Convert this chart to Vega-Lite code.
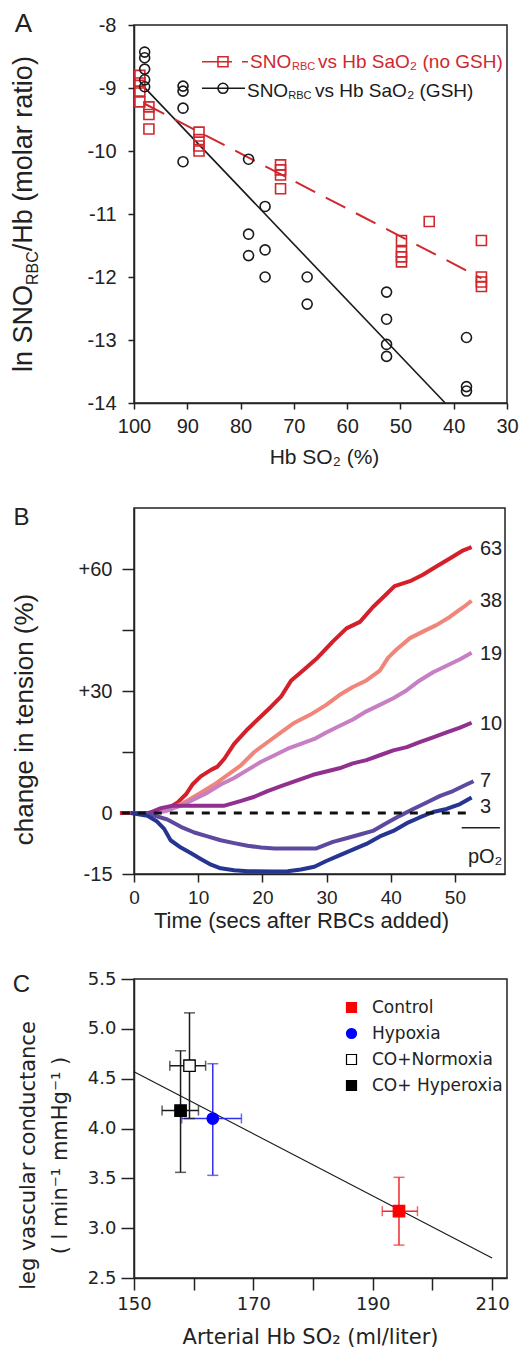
{
"$schema": "https://vega.github.io/schema/vega-lite/v6.json",
"autosize": {"type": "none"},
"padding": {"left": 134, "top": 25, "right": 396, "bottom": 1326},
"background": "white",
"spacing": 105,
"bounds": "flush",
"resolve": {"scale": {"color": "independent"}},
"config": {
  "view": {"stroke": "#222", "strokeWidth": 1.5},
  "axis": {"grid": false, "domainColor": "#222", "domainWidth": 1.5, "tickColor": "#222", "tickWidth": 1.5, "labelColor": "#222", "titleColor": "#222", "labelFont": "Liberation Sans", "titleFont": "Liberation Sans", "titleFontWeight": "normal", "labelOverlap": false, "labelFlush": false},
  "text": {"font": "Liberation Sans", "color": "#222"}
},
"datasets": {
  "ptsA": [
    {"series":"noGSH","x":98.9,"y":-8.8},{"series":"noGSH","x":98.9,"y":-8.92},{"series":"noGSH","x":98.9,"y":-9.05},{"series":"noGSH","x":98.9,"y":-9.22},
    {"series":"noGSH","x":97.2,"y":-9.3},{"series":"noGSH","x":97.2,"y":-9.42},{"series":"noGSH","x":97.2,"y":-9.65},
    {"series":"noGSH","x":87.8,"y":-9.7},{"series":"noGSH","x":87.8,"y":-9.82},{"series":"noGSH","x":87.8,"y":-9.92},{"series":"noGSH","x":87.8,"y":-10.0},
    {"series":"noGSH","x":72.5,"y":-10.22},{"series":"noGSH","x":72.5,"y":-10.3},{"series":"noGSH","x":72.5,"y":-10.38},{"series":"noGSH","x":72.5,"y":-10.6},
    {"series":"noGSH","x":44.6,"y":-11.12},
    {"series":"noGSH","x":49.8,"y":-11.42},{"series":"noGSH","x":49.8,"y":-11.6},{"series":"noGSH","x":49.8,"y":-11.68},{"series":"noGSH","x":49.8,"y":-11.76},
    {"series":"noGSH","x":34.8,"y":-11.42},{"series":"noGSH","x":34.8,"y":-12.0},{"series":"noGSH","x":34.8,"y":-12.08},{"series":"noGSH","x":34.8,"y":-12.15},
    {"series":"GSH","x":98.0,"y":-8.43},{"series":"GSH","x":98.0,"y":-8.52},{"series":"GSH","x":98.0,"y":-8.7},{"series":"GSH","x":98.0,"y":-8.87},{"series":"GSH","x":98.0,"y":-8.98},
    {"series":"GSH","x":90.8,"y":-8.97},{"series":"GSH","x":90.8,"y":-9.05},{"series":"GSH","x":90.8,"y":-9.32},{"series":"GSH","x":90.8,"y":-10.17},
    {"series":"GSH","x":78.5,"y":-10.13},{"series":"GSH","x":78.5,"y":-11.32},{"series":"GSH","x":78.5,"y":-11.66},
    {"series":"GSH","x":75.4,"y":-10.88},{"series":"GSH","x":75.4,"y":-11.57},{"series":"GSH","x":75.4,"y":-12.0},
    {"series":"GSH","x":67.5,"y":-12.0},{"series":"GSH","x":67.5,"y":-12.43},
    {"series":"GSH","x":52.6,"y":-12.24},{"series":"GSH","x":52.6,"y":-12.67},{"series":"GSH","x":52.6,"y":-13.07},{"series":"GSH","x":52.6,"y":-13.26},
    {"series":"GSH","x":37.6,"y":-12.96},{"series":"GSH","x":37.6,"y":-13.74},{"series":"GSH","x":37.6,"y":-13.81}
  ],
  "fitA": [
    {"series":"GSH","x":98.5,"y":-8.95},{"series":"GSH","x":41.6,"y":-14},
    {"series":"noGSH","x":98,"y":-9.25},{"series":"noGSH","x":34.8,"y":-12.02}
  ],
  "curves": [
    {"p":"63","t":-2.2,"v":0},{"p":"63","t":2.1,"v":0},{"p":"63","t":3.6,"v":0.24},{"p":"63","t":5.2,"v":1.0},{"p":"63","t":6.8,"v":2.6},{"p":"63","t":8.1,"v":4.6},{"p":"63","t":9.1,"v":7.0},{"p":"63","t":10.4,"v":9.0},{"p":"63","t":12.0,"v":10.6},{"p":"63","t":13.0,"v":11.4},{"p":"63","t":14.1,"v":13.4},{"p":"63","t":15.6,"v":17.0},{"p":"63","t":17.7,"v":20.6},{"p":"63","t":19.8,"v":23.8},{"p":"63","t":21.4,"v":26.2},{"p":"63","t":22.9,"v":28.6},{"p":"63","t":24.5,"v":32.6},{"p":"63","t":26.6,"v":35.4},{"p":"63","t":28.6,"v":38.2},{"p":"63","t":31.0,"v":42.2},{"p":"63","t":33.1,"v":45.4},{"p":"63","t":35.2,"v":47.0},{"p":"63","t":37.2,"v":50.6},{"p":"63","t":39.3,"v":53.8},{"p":"63","t":40.6,"v":55.8},{"p":"63","t":43.0,"v":57.0},{"p":"63","t":45.0,"v":58.6},{"p":"63","t":47.1,"v":60.6},{"p":"63","t":49.2,"v":62.6},{"p":"63","t":51.3,"v":64.6},{"p":"63","t":52.6,"v":65.4},
    {"p":"38","t":-0.5,"v":0},{"p":"38","t":3.0,"v":0},{"p":"38","t":5.0,"v":0.6},{"p":"38","t":6.25,"v":1.4},{"p":"38","t":8.3,"v":3.0},{"p":"38","t":10.4,"v":5.0},{"p":"38","t":12.5,"v":7.0},{"p":"38","t":14.6,"v":9.4},{"p":"38","t":16.7,"v":11.8},{"p":"38","t":18.75,"v":15.0},{"p":"38","t":20.8,"v":17.4},{"p":"38","t":22.9,"v":19.8},{"p":"38","t":25.0,"v":22.2},{"p":"38","t":27.5,"v":24.2},{"p":"38","t":29.95,"v":26.6},{"p":"38","t":32.0,"v":29.0},{"p":"38","t":34.1,"v":31.0},{"p":"38","t":36.2,"v":32.6},{"p":"38","t":38.3,"v":35.0},{"p":"38","t":39.6,"v":38.2},{"p":"38","t":40.9,"v":40.2},{"p":"38","t":43.0,"v":43.0},{"p":"38","t":45.0,"v":44.6},{"p":"38","t":47.1,"v":46.2},{"p":"38","t":49.2,"v":48.2},{"p":"38","t":51.3,"v":50.6},{"p":"38","t":52.6,"v":52.2},
    {"p":"19","t":-0.5,"v":0},{"p":"19","t":3.0,"v":0},{"p":"19","t":5.0,"v":0.5},{"p":"19","t":7.3,"v":1.8},{"p":"19","t":9.4,"v":3.4},{"p":"19","t":11.45,"v":5.0},{"p":"19","t":13.5,"v":7.0},{"p":"19","t":15.6,"v":8.6},{"p":"19","t":17.7,"v":10.6},{"p":"19","t":19.8,"v":12.6},{"p":"19","t":21.9,"v":14.2},{"p":"19","t":23.95,"v":15.8},{"p":"19","t":26.0,"v":17.0},{"p":"19","t":28.1,"v":18.2},{"p":"19","t":29.95,"v":19.8},{"p":"19","t":32.0,"v":21.4},{"p":"19","t":34.1,"v":23.0},{"p":"19","t":36.2,"v":25.0},{"p":"19","t":38.3,"v":26.6},{"p":"19","t":40.4,"v":28.2},{"p":"19","t":42.5,"v":30.2},{"p":"19","t":44.5,"v":32.6},{"p":"19","t":46.6,"v":34.6},{"p":"19","t":48.7,"v":36.2},{"p":"19","t":50.8,"v":37.8},{"p":"19","t":52.6,"v":39.4},
    {"p":"10","t":-0.5,"v":0},{"p":"10","t":2.3,"v":0},{"p":"10","t":4.2,"v":1.2},{"p":"10","t":6.0,"v":1.8},{"p":"10","t":14.1,"v":1.8},{"p":"10","t":16.7,"v":3.0},{"p":"10","t":18.75,"v":4.0},{"p":"10","t":20.8,"v":5.4},{"p":"10","t":22.9,"v":6.6},{"p":"10","t":25.0,"v":7.8},{"p":"10","t":27.9,"v":9.4},{"p":"10","t":29.95,"v":10.2},{"p":"10","t":32.0,"v":11.0},{"p":"10","t":34.1,"v":12.2},{"p":"10","t":36.2,"v":13.0},{"p":"10","t":38.3,"v":14.2},{"p":"10","t":40.4,"v":15.4},{"p":"10","t":42.5,"v":16.2},{"p":"10","t":44.5,"v":17.4},{"p":"10","t":46.6,"v":18.6},{"p":"10","t":48.7,"v":19.8},{"p":"10","t":50.8,"v":21.0},{"p":"10","t":52.6,"v":22.2},
    {"p":"7","t":-0.5,"v":0},{"p":"7","t":2.3,"v":-0.2},{"p":"7","t":5.2,"v":-1.6},{"p":"7","t":7.3,"v":-3.4},{"p":"7","t":9.4,"v":-4.8},{"p":"7","t":11.45,"v":-5.75},{"p":"7","t":13.5,"v":-6.7},{"p":"7","t":15.6,"v":-7.4},{"p":"7","t":17.7,"v":-8.05},{"p":"7","t":19.8,"v":-8.5},{"p":"7","t":21.9,"v":-8.7},{"p":"7","t":28.4,"v":-8.7},{"p":"7","t":31.0,"v":-7.1},{"p":"7","t":33.1,"v":-6.2},{"p":"7","t":35.2,"v":-5.3},{"p":"7","t":37.2,"v":-4.4},{"p":"7","t":39.3,"v":-2.5},{"p":"7","t":41.4,"v":-0.7},{"p":"7","t":43.5,"v":1.0},{"p":"7","t":45.6,"v":2.6},{"p":"7","t":47.7,"v":4.2},{"p":"7","t":49.7,"v":5.4},{"p":"7","t":51.8,"v":7.0},{"p":"7","t":52.9,"v":7.8},
    {"p":"3","t":-0.5,"v":0},{"p":"3","t":2.1,"v":-0.7},{"p":"3","t":3.6,"v":-2.1},{"p":"3","t":4.7,"v":-3.9},{"p":"3","t":5.7,"v":-6.7},{"p":"3","t":7.3,"v":-8.5},{"p":"3","t":8.9,"v":-9.9},{"p":"3","t":10.4,"v":-11.3},{"p":"3","t":12.0,"v":-12.7},{"p":"3","t":13.5,"v":-13.6},{"p":"3","t":15.6,"v":-14.1},{"p":"3","t":17.7,"v":-14.3},{"p":"3","t":21.9,"v":-14.4},{"p":"3","t":23.95,"v":-14.3},{"p":"3","t":26.0,"v":-13.9},{"p":"3","t":28.1,"v":-13.2},{"p":"3","t":29.95,"v":-11.8},{"p":"3","t":32.0,"v":-10.4},{"p":"3","t":34.1,"v":-9.0},{"p":"3","t":36.2,"v":-7.6},{"p":"3","t":38.3,"v":-5.75},{"p":"3","t":40.4,"v":-4.4},{"p":"3","t":42.5,"v":-2.5},{"p":"3","t":44.5,"v":-1.1},{"p":"3","t":46.6,"v":0.25},{"p":"3","t":48.7,"v":1.0},{"p":"3","t":50.8,"v":2.2},{"p":"3","t":52.6,"v":3.8}
  ],
  "curveLabels": [
    {"p":"63","v":65.0},{"p":"38","v":52.2},{"p":"19","v":39.0},{"p":"10","v":21.8},{"p":"7","v":7.8},{"p":"3","v":1.44}
  ],
  "ptsC": [
    {"group":"Control","x":194.4,"y":3.17,"xlo":191.6,"xhi":197.5,"ylo":2.83,"yhi":3.51},
    {"group":"Hypoxia","x":163.2,"y":4.10,"xlo":158.0,"xhi":168.0,"ylo":3.53,"yhi":4.65},
    {"group":"CO+Normoxia","x":159.3,"y":4.63,"xlo":156.0,"xhi":162.0,"ylo":4.10,"yhi":5.16},
    {"group":"CO+ Hyperoxia","x":157.8,"y":4.18,"xlo":154.7,"xhi":160.8,"ylo":3.56,"yhi":4.78}
  ],
  "fitC": [{"x":150,"y":4.57},{"x":210,"y":2.70}]
},
"vconcat": [
  {
    "width": 373, "height": 378,
    "layer": [
      {"data": {"name": "fitA"}, "transform": [{"filter": "datum.series == 'GSH'"}],
       "mark": {"type": "line", "color": "#1a1a1a", "strokeWidth": 1.6},
       "encoding": {
         "x": {"field": "x", "type": "quantitative", "scale": {"domain": [100, 30], "nice": false, "zero": false},
               "axis": {"values": [100,90,80,70,60,50,40,30], "labelFontSize": 20, "tickSize": 6, "labelPadding": 7, "title": "Hb SO₂ (%)", "titleFontSize": 21, "titleX": 190, "titleY": 60, "titleBaseline": "alphabetic", "titleAlign": "center"}},
         "y": {"field": "y", "type": "quantitative", "scale": {"domain": [-14, -8], "nice": false, "zero": false},
               "axis": {"values": [-8,-9,-10,-11,-12,-13,-14], "labelExpr": "'' + datum.value", "labelFontSize": 20, "tickSize": 6, "labelPadding": 12, "title": null}}
       }},
      {"data": {"name": "fitA"}, "transform": [{"filter": "datum.series == 'noGSH'"}],
       "mark": {"type": "line", "color": "#d0282e", "strokeWidth": 2, "strokeDash": [22, 12]},
       "encoding": {"x": {"field": "x", "type": "quantitative"}, "y": {"field": "y", "type": "quantitative"}}},
      {"data": {"name": "ptsA"}, "transform": [{"filter": "datum.series == 'noGSH'"}],
       "mark": {"type": "point", "shape": "square", "size": 100, "color": "#d0282e", "strokeWidth": 1.6, "filled": false, "opacity": 1},
       "encoding": {"x": {"field": "x", "type": "quantitative"}, "y": {"field": "y", "type": "quantitative"}}},
      {"data": {"name": "ptsA"}, "transform": [{"filter": "datum.series == 'GSH'"}],
       "mark": {"type": "point", "shape": "circle", "size": 100, "color": "#1a1a1a", "strokeWidth": 1.6, "filled": false, "opacity": 1},
       "encoding": {"x": {"field": "x", "type": "quantitative"}, "y": {"field": "y", "type": "quantitative"}}},
      {"data": {"values": [{}]},
       "mark": {"type": "rule", "color": "#d0282e", "strokeWidth": 1.6, "strokeDash": [30, 10]},
       "encoding": {"x": {"datum": 87.24, "type": "quantitative"}, "x2": {"datum": 78.61}, "y": {"datum": -8.583, "type": "quantitative"}}},
      {"data": {"values": [{}]},
       "mark": {"type": "rule", "color": "#1a1a1a", "strokeWidth": 1.6},
       "encoding": {"x": {"datum": 87.24, "type": "quantitative"}, "x2": {"datum": 79.17}, "y": {"datum": -9.005, "type": "quantitative"}}},
      {"data": {"values": [{}]},
       "mark": {"type": "point", "shape": "square", "size": 100, "color": "#d0282e", "strokeWidth": 1.6, "filled": false, "opacity": 1},
       "encoding": {"x": {"datum": 83.3, "type": "quantitative"}, "y": {"datum": -8.583, "type": "quantitative"}}},
      {"data": {"values": [{}]},
       "mark": {"type": "point", "shape": "circle", "size": 100, "color": "#1a1a1a", "strokeWidth": 1.6, "filled": false, "opacity": 1},
       "encoding": {"x": {"datum": 83.3, "type": "quantitative"}, "y": {"datum": -9.005, "type": "quantitative"}}},
      {"data": {"values": [{}]},
       "mark": {"type": "text", "text": "SNO", "fontSize": 19, "color": "#d0282e", "align": "left", "baseline": "alphabetic"},
       "encoding": {"x": {"datum": 78.23, "type": "quantitative"}, "y": {"datum": -8.683, "type": "quantitative"}}},
      {"data": {"values": [{}]},
       "mark": {"type": "text", "text": "RBC", "fontSize": 11, "dy": 2, "color": "#d0282e", "align": "left", "baseline": "alphabetic"},
       "encoding": {"x": {"datum": 70.35, "type": "quantitative"}, "y": {"datum": -8.683, "type": "quantitative"}}},
      {"data": {"values": [{}]},
       "mark": {"type": "text", "text": "vs Hb SaO₂ (no GSH)", "fontSize": 19, "color": "#d0282e", "align": "left", "baseline": "alphabetic"},
       "encoding": {"x": {"datum": 65.47, "type": "quantitative"}, "y": {"datum": -8.683, "type": "quantitative"}}},
      {"data": {"values": [{}]},
       "mark": {"type": "text", "text": "SNO", "fontSize": 19, "color": "#1a1a1a", "align": "left", "baseline": "alphabetic"},
       "encoding": {"x": {"datum": 78.8, "type": "quantitative"}, "y": {"datum": -9.143, "type": "quantitative"}}},
      {"data": {"values": [{}]},
       "mark": {"type": "text", "text": "RBC", "fontSize": 11, "dy": 2, "color": "#1a1a1a", "align": "left", "baseline": "alphabetic"},
       "encoding": {"x": {"datum": 71.06, "type": "quantitative"}, "y": {"datum": -9.143, "type": "quantitative"}}},
      {"data": {"values": [{}]},
       "mark": {"type": "text", "text": "vs Hb SaO₂ (GSH)", "fontSize": 19, "color": "#1a1a1a", "align": "left", "baseline": "alphabetic"},
       "encoding": {"x": {"datum": 66.03, "type": "quantitative"}, "y": {"datum": -9.143, "type": "quantitative"}}},
      {"data": {"values": [{}]},
       "mark": {"type": "text", "text": "ln SNO", "fontSize": 27, "angle": 270, "align": "left", "baseline": "alphabetic"},
       "encoding": {"x": {"datum": 119.14, "type": "quantitative"}, "y": {"datum": -13.508, "type": "quantitative"}}},
      {"data": {"values": [{}]},
       "mark": {"type": "text", "text": "RBC", "fontSize": 16, "dy": 6, "angle": 270, "align": "left", "baseline": "alphabetic"},
       "encoding": {"x": {"datum": 119.14, "type": "quantitative"}, "y": {"datum": -12.127, "type": "quantitative"}}},
      {"data": {"values": [{}]},
       "mark": {"type": "text", "text": "/Hb (molar ratio)", "fontSize": 27, "angle": 270, "align": "left", "baseline": "alphabetic"},
       "encoding": {"x": {"datum": 119.14, "type": "quantitative"}, "y": {"datum": -11.59, "type": "quantitative"}}},
      {"data": {"values": [{}]},
       "mark": {"type": "text", "text": "A", "fontSize": 26, "align": "center", "baseline": "alphabetic"},
       "encoding": {"x": {"datum": 120.74, "type": "quantitative"}, "y": {"datum": -8.111, "type": "quantitative"}}}
    ]
  },
  {
    "width": 371, "height": 366,
    "layer": [
      {"data": {"name": "curves"},
       "mark": {"type": "line", "strokeWidth": 4, "strokeJoin": "round"},
       "encoding": {
         "x": {"field": "t", "type": "quantitative", "scale": {"domain": [0, 57.8], "nice": false, "zero": false},
               "axis": {"values": [0,10,20,30,40,50], "labelFontSize": 19, "tickSize": 8, "labelPadding": 6, "title": "Time (secs after RBCs added)", "titleFontSize": 22, "titleX": 167, "titleY": 53, "titleBaseline": "alphabetic", "titleAlign": "center"}},
         "y": {"field": "v", "type": "quantitative", "scale": {"domain": [-15, 75], "nice": false, "zero": false},
               "axis": {"values": [-15,0,15,30,45,60], "labelExpr": "datum.value == 60 ? '+60' : datum.value == 30 ? '+30' : datum.value == 0 ? '0' : datum.value == -15 ? '-15' : ''", "labelFontSize": 20, "tickSize": 12, "labelPadding": 10, "title": "change in tension (%)", "titleFontSize": 26, "titleX": -110, "titleY": 211, "titleAngle": 270, "titleBaseline": "middle", "titleAlign": "center"}},
         "color": {"field": "p", "type": "nominal", "scale": {"domain": ["63","38","19","10","7","3"], "range": ["#d3202a","#f0857a","#c77fc4","#923090","#5d4aa0","#263592"]}, "legend": null}
       }},
      {"data": {"values": [{}]},
       "mark": {"type": "rule", "color": "#111", "strokeWidth": 3, "strokeDash": [8, 8]},
       "encoding": {"x": {"datum": -1.9, "type": "quantitative"}, "x2": {"datum": 52.4}, "y": {"datum": 0, "type": "quantitative"}}},
      {"data": {"name": "curveLabels"},
       "mark": {"type": "text", "align": "left", "baseline": "middle", "fontSize": 20},
       "encoding": {"x": {"datum": 53.9, "type": "quantitative"}, "y": {"field": "v", "type": "quantitative"}, "text": {"field": "p"}}},
      {"data": {"values": [{}]},
       "mark": {"type": "rule", "color": "#222", "strokeWidth": 1.5},
       "encoding": {"x": {"datum": 51.05, "type": "quantitative"}, "x2": {"datum": 57.0}, "y": {"datum": -3.6, "type": "quantitative"}}},
      {"data": {"values": [{}]},
       "mark": {"type": "text", "text": "pO₂", "fontSize": 20, "align": "center", "baseline": "middle"},
       "encoding": {"x": {"datum": 54.7, "type": "quantitative"}, "y": {"datum": -10.75, "type": "quantitative"}}},
      {"data": {"values": [{}]},
       "mark": {"type": "text", "text": "B", "fontSize": 24, "align": "center", "baseline": "alphabetic"},
       "encoding": {"x": {"datum": -17.53, "type": "quantitative"}, "y": {"datum": 70.82, "type": "quantitative"}}}
    ]
  },
  {
    "width": 373, "height": 299,
    "layer": [
      {"data": {"name": "fitC"},
       "mark": {"type": "line", "color": "#1a1a1a", "strokeWidth": 1.2},
       "encoding": {
         "x": {"field": "x", "type": "quantitative", "scale": {"domain": [150, 212.5], "nice": false, "zero": false},
               "axis": {"values": [150,160,170,180,190,200,210], "labelExpr": "datum.value % 20 == 10 ? datum.label : ''", "labelFont": "DejaVu Sans", "labelFontSize": 18, "tickSize": 12, "labelPadding": 5, "title": "Arterial Hb SO₂ (ml/liter)", "titleFont": "DejaVu Sans", "titleFontSize": 21, "titleX": 176, "titleY": 65, "titleBaseline": "alphabetic", "titleAlign": "center"}},
         "y": {"field": "y", "type": "quantitative", "scale": {"domain": [2.5, 5.5], "nice": false, "zero": false},
               "axis": {"values": [2.5,3,3.5,4,4.5,5,5.5], "format": ".1f", "labelFont": "DejaVu Sans", "labelFontSize": 18, "tickSize": 13, "labelPadding": 5, "title": ["leg vascular conductance", "( l min⁻¹  mmHg⁻¹ )"], "titleFont": "DejaVu Sans", "titleFontSize": 21, "titleLineHeight": 32, "titleX": -106, "titleY": 176, "titleAngle": 270, "titleBaseline": "middle", "titleAlign": "center"}}
       }},
      {"data": {"name": "ptsC"},
       "mark": {"type": "rule", "strokeWidth": 1.5},
       "encoding": {"x": {"field": "x", "type": "quantitative"}, "y": {"field": "ylo", "type": "quantitative"}, "y2": {"field": "yhi"},
         "color": {"field": "group", "type": "nominal", "scale": {"domain": ["Control","Hypoxia","CO+Normoxia","CO+ Hyperoxia"], "range": ["#ee2a2a","#3030e8","#1a1a1a","#1a1a1a"]}, "legend": null}}},
      {"data": {"name": "ptsC"},
       "mark": {"type": "rule", "strokeWidth": 1.5},
       "encoding": {"x": {"field": "xlo", "type": "quantitative"}, "x2": {"field": "xhi"}, "y": {"field": "y", "type": "quantitative"},
         "color": {"field": "group", "type": "nominal", "legend": null}}},
      {"data": {"name": "ptsC"},
       "mark": {"type": "tick", "orient": "horizontal", "size": 11, "thickness": 1.5},
       "encoding": {"x": {"field": "x", "type": "quantitative"}, "y": {"field": "ylo", "type": "quantitative"}, "color": {"field": "group", "type": "nominal", "legend": null}}},
      {"data": {"name": "ptsC"},
       "mark": {"type": "tick", "orient": "horizontal", "size": 11, "thickness": 1.5},
       "encoding": {"x": {"field": "x", "type": "quantitative"}, "y": {"field": "yhi", "type": "quantitative"}, "color": {"field": "group", "type": "nominal", "legend": null}}},
      {"data": {"name": "ptsC"},
       "mark": {"type": "tick", "orient": "vertical", "size": 10, "thickness": 1.5},
       "encoding": {"x": {"field": "xlo", "type": "quantitative"}, "y": {"field": "y", "type": "quantitative"}, "color": {"field": "group", "type": "nominal", "legend": null}}},
      {"data": {"name": "ptsC"},
       "mark": {"type": "tick", "orient": "vertical", "size": 10, "thickness": 1.5},
       "encoding": {"x": {"field": "xhi", "type": "quantitative"}, "y": {"field": "y", "type": "quantitative"}, "color": {"field": "group", "type": "nominal", "legend": null}}},
      {"data": {"name": "ptsC"},
       "mark": {"type": "point", "filled": true, "strokeWidth": 1.3, "opacity": 1, "size": 130},
       "encoding": {"x": {"field": "x", "type": "quantitative"}, "y": {"field": "y", "type": "quantitative"},
         "shape": {"field": "group", "type": "nominal", "scale": {"domain": ["Control","Hypoxia","CO+Normoxia","CO+ Hyperoxia"], "range": ["square","circle","square","square"]},
                   "legend": {"orient": "none", "legendX": 209, "legendY": 974, "title": null, "labelFont": "DejaVu Sans", "labelFontSize": 17, "labelColor": "#222", "symbolSize": 100, "rowPadding": 8, "labelOffset": 12, "padding": 0, "symbolStrokeWidth": 1.2}},
         "fill": {"field": "group", "type": "nominal", "scale": {"domain": ["Control","Hypoxia","CO+Normoxia","CO+ Hyperoxia"], "range": ["#ff0000","#0000ff","#ffffff","#000000"]}},
         "stroke": {"field": "group", "type": "nominal", "scale": {"domain": ["Control","Hypoxia","CO+Normoxia","CO+ Hyperoxia"], "range": ["#ff0000","#0000ff","#000000","#000000"]}}
       }},
      {"data": {"values": [{}]},
       "mark": {"type": "text", "text": "C", "fontSize": 24, "align": "center", "baseline": "alphabetic"},
       "encoding": {"x": {"datum": 131.15, "type": "quantitative"}, "y": {"datum": 5.37, "type": "quantitative"}}}
    ]
  }
]
}
